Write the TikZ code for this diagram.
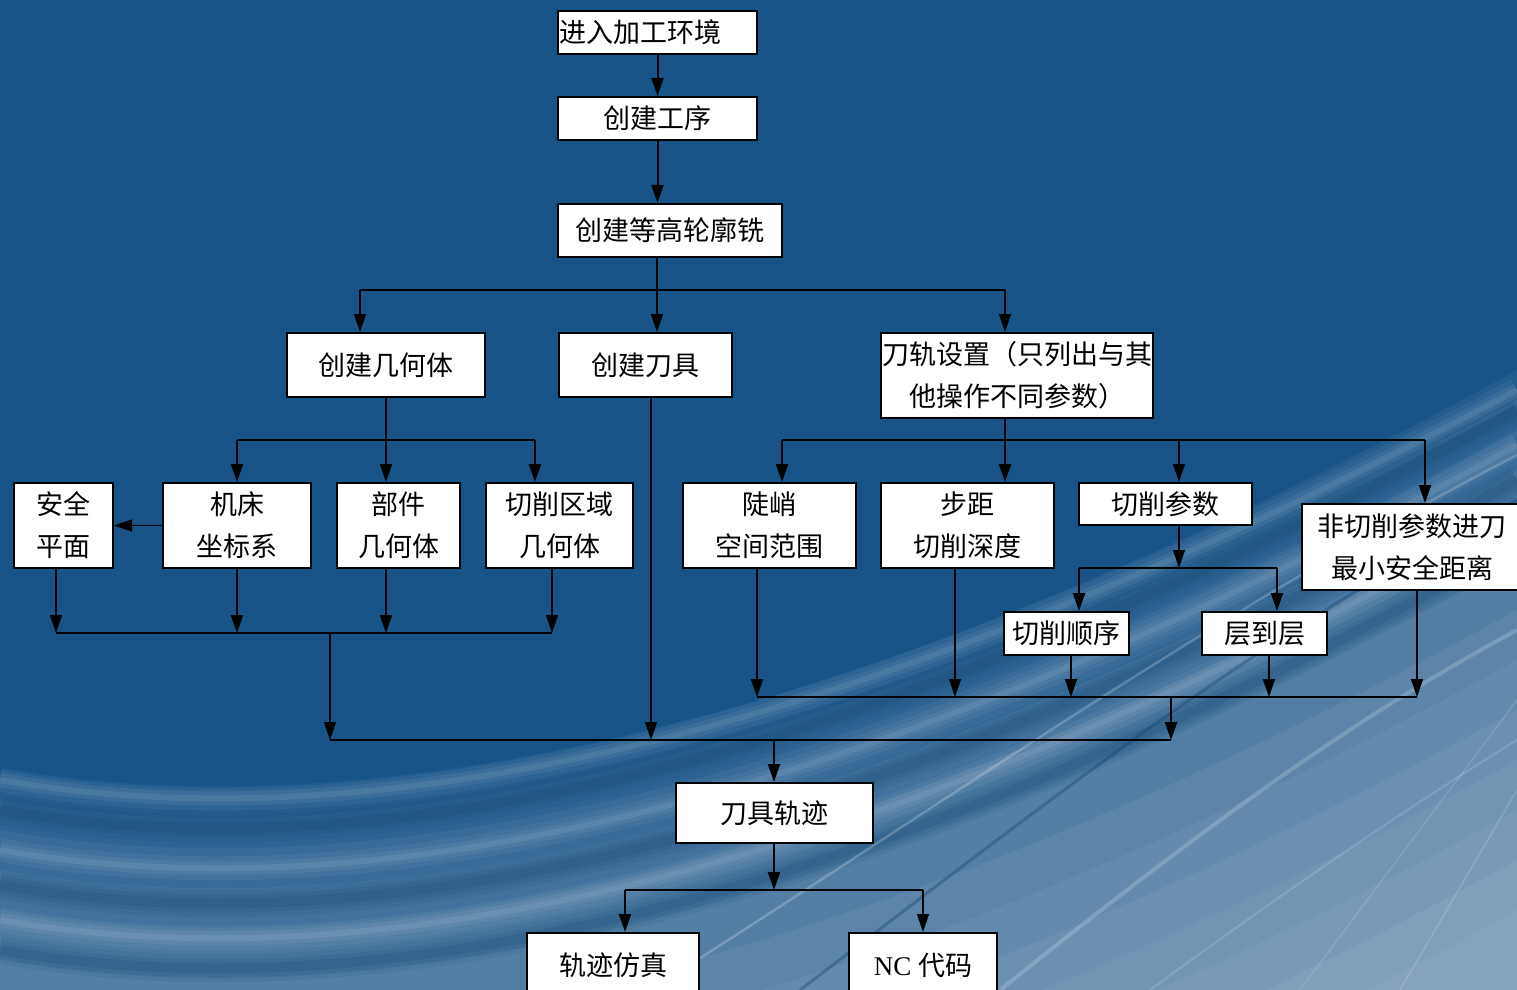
\documentclass[tikz,border=0pt]{standalone}
\usepackage{fontspec}
\setmainfont{Liberation Serif}
\newfontfamily\cjk{Noto Sans CJK SC}
\usetikzlibrary{arrows.meta}
\definecolor{bgblue}{HTML}{185488}
\definecolor{darkstreak}{HTML}{0E406C}
\begin{document}
\begin{tikzpicture}[x=0.5pt,y=-0.5pt,
  box/.style={draw=black, line width=1pt, fill=white, inner sep=0pt, align=center,
    font=\cjk\fontsize{13.5}{21}\selectfont},
  ln/.style={line width=1pt, draw=black},
  thinln/.style={line width=0.6pt, draw=black},
  arr/.style={ln, -{Triangle[width=6pt,length=9pt]}},
  thinarr/.style={thinln, -{Triangle[width=6pt,length=9pt]}}]
% background
\fill[bgblue] (0,0) rectangle (1517,990);
\clip (0,0) rectangle (1517,990);
\useasboundingbox (0,0) rectangle (1517,990);
% gradual lightening towards bottom right, bounded by a family of curves
\foreach \Y in {770,800,830,870,910,960,1010,1060,1110,1160,1210,1260,1310}{
  \fill[white, opacity=0.05] (0,\Y) .. controls (400,\Y+70) and (900,\Y-60) .. (1517,\Y-400)
     -- (1517,990) -- (0,990) -- cycle;
}
% soft dark bands
\foreach \w/\o in {14/0.10,9/0.12,5/0.15}{
  \draw[darkstreak, line width=\w pt, opacity=\o] (0,810) .. controls (400,880) and (900,750) .. (1517,410);
  \draw[darkstreak, line width=\w pt, opacity=\o] (0,885) .. controls (400,955) and (900,825) .. (1517,480);
  \draw[darkstreak, line width=\w pt, opacity=\o] (0,950) .. controls (400,1020) and (900,890) .. (1517,545);
}
% soft light bands
\foreach \w/\o in {12/0.05,7/0.06,3/0.08}{
  \draw[white, line width=\w pt, opacity=\o] (0,780) .. controls (400,850) and (900,720) .. (1517,390);
  \draw[white, line width=\w pt, opacity=\o] (0,850) .. controls (400,920) and (900,790) .. (1517,445);
  \draw[white, line width=\w pt, opacity=\o] (0,920) .. controls (400,990) and (900,860) .. (1517,515);
}
% fine streaks
\draw[white, opacity=0.22, line width=1.2pt] (650,990) .. controls (950,800) and (1200,620) .. (1517,455);
\draw[darkstreak, opacity=0.35, line width=1.5pt] (800,990) .. controls (1050,800) and (1250,640) .. (1517,500);
\draw[white, opacity=0.18, line width=2pt] (1000,990) .. controls (1200,830) and (1350,720) .. (1517,630);
\draw[white, opacity=0.15, line width=1pt] (1150,990) .. controls (1300,880) and (1420,800) .. (1517,740);
\draw[white, opacity=0.15, line width=0.8pt] (1400,990) -- (1517,790);
\draw[white, opacity=0.12, line width=0.8pt] (1300,990) -- (1517,700);
% nodes
\node[box, minimum width=99.5pt, minimum height=21.5pt, text width=98pt, align=left, inner xsep=0.75pt] (n1) at (657.5,32.5) {进入加工环境};
\node[box, minimum width=99.5pt, minimum height=21.5pt] (n2) at (657.5,118.5) {创建工序};
\node[box, minimum width=112pt, minimum height=26.5pt] (n3) at (670,230.5) {创建等高轮廓铣};
\node[box, minimum width=99pt, minimum height=32pt] (n4) at (386,365) {创建几何体};
\node[box, minimum width=86.5pt, minimum height=32pt] (n5) at (645.5,365) {创建刀具};
\node[box, minimum width=136pt, minimum height=42.5pt] (n6) at (1017,375.5) {刀轨设置（只列出与其\\他操作不同参数）};
\node[box, minimum width=49.5pt, minimum height=42.5pt] (n7) at (63.5,525.5) {安全\\平面};
\node[box, minimum width=74pt, minimum height=42.5pt] (n8) at (237,525.5) {机床\\坐标系};
\node[box, minimum width=61.5pt, minimum height=42.5pt] (n9) at (398.5,525.5) {部件\\几何体};
\node[box, minimum width=73.5pt, minimum height=42.5pt] (n10) at (559.5,525.5) {切削区域\\几何体};
\node[box, minimum width=86.5pt, minimum height=42.5pt] (n11) at (769.5,525.5) {陡峭\\空间范围};
\node[box, minimum width=86.5pt, minimum height=42.5pt] (n12) at (967.5,525.5) {步距\\切削深度};
\node[box, minimum width=86.5pt, minimum height=21pt] (n13) at (1165.5,504) {切削参数};
\node[box, minimum width=110pt, minimum height=43pt] (n14) at (1412,547) {非切削参数进刀\\最小安全距离};
\node[box, minimum width=62.5pt, minimum height=21.5pt] (n15) at (1066.5,633.5) {切削顺序};
\node[box, minimum width=62.5pt, minimum height=21.5pt] (n16) at (1264.5,633.5) {层到层};
\node[box, minimum width=98.5pt, minimum height=30pt] (n17) at (774.5,813) {刀具轨迹};
\node[box, minimum width=86pt, minimum height=32pt] (n18) at (613,965) {轨迹仿真};
\node[box, minimum width=74pt, minimum height=32pt] (n19) at (923,965) {\rmfamily NC \cjk 代码};
% junction coordinates
\coordinate (a) at (657,290);
\coordinate (aL) at (360,290);
\coordinate (aR) at (1005,290);
\coordinate (b) at (386,440);
\coordinate (bL) at (237,440);
\coordinate (bR) at (535,440);
\coordinate (c1) at (56,633);
\coordinate (c2) at (237,633);
\coordinate (c3) at (386,633);
\coordinate (c4) at (552,633);
\coordinate (cm) at (330,633);
\coordinate (d) at (1005,440);
\coordinate (dL) at (782,440);
\coordinate (dM) at (1179,440);
\coordinate (dR) at (1425,440);
\coordinate (e) at (1179,568);
\coordinate (eL) at (1079,568);
\coordinate (eR) at (1277,568);
\coordinate (f1) at (757,697);
\coordinate (f2) at (955,697);
\coordinate (f3) at (1071,697);
\coordinate (f4) at (1269,697);
\coordinate (f5) at (1417,697);
\coordinate (fm) at (1171,697);
\coordinate (g1) at (330,740);
\coordinate (g2) at (651,740);
\coordinate (g3) at (1171,740);
\coordinate (gm) at (774,740);
\coordinate (h) at (774,890);
\coordinate (hL) at (625,890);
\coordinate (hR) at (923,890);
% connectors
\draw[arr] (n1.south -| n2.south) -- (n2.north);
\draw[arr] (n2.south) -- (n2.south |- n3.north);
\draw[thinln] (a |- n3.south) -- (a);
\draw[thinln] (aL) -- (aR);
\draw[arr] (a) -- (a |- n5.north);
\draw[thinarr] (aL) -- (aL |- n4.north);
\draw[thinarr] (aR) -- (aR |- n6.north);
\draw[ln] (b |- n4.south) -- (b);
\draw[ln] (bL) -- (bR);
\draw[arr] (bL) -- (bL |- n8.north);
\draw[arr] (b) -- (b |- n9.north);
\draw[arr] (bR) -- (bR |- n10.north);
\draw[thinarr] (n8.west) -- (n7.east);
\draw[thinarr] (c1 |- n7.south) -- (c1);
\draw[arr] (c2 |- n8.south) -- (c2);
\draw[arr] (c3 |- n9.south) -- (c3);
\draw[thinarr] (c4 |- n10.south) -- (c4);
\draw[ln] (c1) -- (c4);
\draw[thinarr] (cm) -- (g1);
\draw[thinarr] (g2 |- n5.south) -- (g2);
\draw[ln] (d |- n6.south) -- (d);
\draw[ln] (dL) -- (dR);
\draw[arr] (dL) -- (dL |- n11.north);
\draw[arr] (d) -- (d |- n12.north);
\draw[thinarr] (dM) -- (dM |- n13.north);
\draw[arr] (dR) -- (dR |- n14.north);
\draw[thinarr] (e |- n13.south) -- (e);
\draw[thinln] (eL) -- (eR);
\draw[arr] (eL) -- (eL |- n15.north);
\draw[arr] (eR) -- (eR |- n16.north);
\draw[arr] (f1 |- n11.south) -- (f1);
\draw[thinarr] (f2 |- n12.south) -- (f2);
\draw[arr] (f3 |- n15.south) -- (f3);
\draw[arr] (f4 |- n16.south) -- (f4);
\draw[thinarr] (f5 |- n14.south) -- (f5);
\draw[ln] (f1) -- (f5);
\draw[arr] (fm) -- (g3);
\draw[ln] (g1) -- (g3);
\draw[arr] (gm) -- (gm |- n17.north);
\draw[arr] (n17.south -| h) -- (h);
\draw[thinln] (hL) -- (hR);
\draw[arr] (hL) -- (hL |- n18.north);
\draw[thinarr] (hR) -- (hR |- n19.north);
\end{tikzpicture}
\end{document}
